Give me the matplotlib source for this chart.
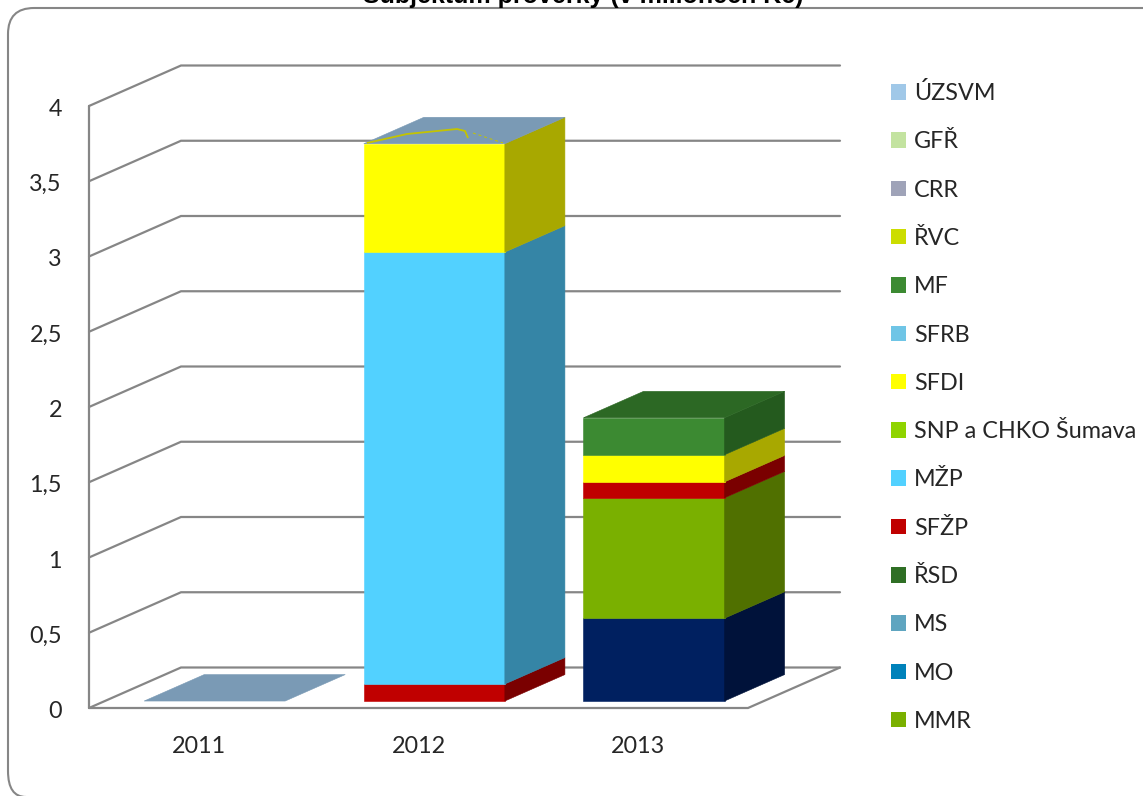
import matplotlib
matplotlib.use("Agg")
import matplotlib.pyplot as plt
from matplotlib.patches import Polygon, Patch, PathPatch
from matplotlib.path import Path
from matplotlib.transforms import Affine2D

W, H = 1148, 796

# ---- data -------------------------------------------------------------
title = "Subjektům prověrky (v milionech Kč)"
years = ["2011", "2012", "2013"]
y_ticks = [0, 0.5, 1, 1.5, 2, 2.5, 3, 3.5, 4]
y_tick_labels = ["0", "0,5", "1", "1,5", "2", "2,5", "3", "3,5", "4"]

# stacked segments, bottom to top; each list = 2011, 2012, 2013
unnamed_series = [0, 0, 0.55]
mmr = [0, 0, 0.80]
sfzp = [0, 0.113, 0.106]
mzp = [0, 2.87, 0]
sfdi = [0, 0.72, 0.18]
mf = [0, 0, 0.246]

stack_values = [unnamed_series, mmr, sfzp, mzp, sfdi, mf]
stack_front = ["#002060", "#7AB000", "#C00000", "#52D1FF", "#FFFF00", "#3C8A32"]
stack_side = ["#00123A", "#507000", "#7A0000", "#3585A6", "#A8A800", "#245A1E"]
top_colors = ["#7A9AB5", "#7A9AB5", "#2C6824"]

legend_names = ["ÚZSVM", "GFŘ", "CRR", "ŘVC", "MF", "SFRB", "SFDI",
                "SNP a CHKO Šumava", "MŽP", "SFŽP", "ŘSD", "MS", "MO", "MMR"]
legend_colors = ["#A0C8E8", "#C3E3A0", "#9FA3B8", "#CCDD00", "#3C8A32", "#6FC5E6",
                 "#FFFF00", "#8FD400", "#52D1FF", "#C00000", "#2F6F25", "#5FA5C0",
                 "#0082BA", "#7AB000"]

# ---- layout -----------------------------------------------------------
GRID = "#868686"
TEXT = "#262626"
FONT = "Lato"
LEFT, RIGHT, BASE, TOP = 89, 748, 708, 106
DEPTH_X, DEPTH_Y = 92, 40.5   # pixels of full depth of the oblique floor
BAR_WIDTH = 0.642
D0, D1 = 0.172, 0.825         # front/back depth of the bars

fig = plt.figure(figsize=(W / 100, H / 100), dpi=100, facecolor="white")
ax = fig.add_axes([LEFT / W, (H - BASE) / H, (RIGHT - LEFT) / W, (BASE - TOP) / H])
ax.set_xlim(0, len(years))
ax.set_ylim(0, 4)
ax.patch.set_visible(False)
for s in ax.spines.values():
    s.set_visible(False)

sx = DEPTH_X / ((RIGHT - LEFT) / len(years))
sy = DEPTH_Y / ((BASE - TOP) / 4)


def pr(x, v, d):
    """Oblique projection of (category x, value v, depth d) to data coordinates."""
    return (x + d * sx, v + d * sy)


ax.set_xticks([i + 0.5 for i in range(len(years))], years)
ax.set_yticks(y_ticks, y_tick_labels)
ax.tick_params(axis="both", length=0, labelsize=16.8, labelcolor=TEXT)
ax.tick_params(axis="y", pad=19.5)
ax.tick_params(axis="x", pad=20)
shift_down = Affine2D().translate(0, -1.5)
for lab in ax.get_xticklabels():
    lab.set_fontfamily(FONT)
for lab in ax.get_yticklabels():
    lab.set_fontfamily(FONT)
    lab.set_transform(lab.get_transform() + shift_down)

# walls and grid
line_kw = dict(color=GRID, lw=1.6, clip_on=False, zorder=1, solid_capstyle="round",
               solid_joinstyle="miter")
for v in y_ticks:
    p0, p1, p2 = pr(0, v, 0), pr(0, v, 1), pr(len(years), v, 1)
    ax.plot([p0[0], p1[0], p2[0]], [p0[1], p1[1], p2[1]], **line_kw)
ax.plot([0, 0], [0, 4], **line_kw)
pa, pb, pc = pr(0, 0, 0), pr(len(years), 0, 0), pr(len(years), 0, 1)
ax.plot([pa[0], pb[0], pc[0]], [pa[1], pb[1], pc[1]], **line_kw)


def poly(points, color, z):
    ax.add_patch(Polygon(points, closed=True, facecolor=color, edgecolor=color,
                         lw=0.4, clip_on=False, zorder=z))


# bars
for i in range(len(years)):
    xl, xr = i + 0.5 - BAR_WIDTH / 2, i + 0.5 + BAR_WIDTH / 2
    bottom = 0
    for values, fc, sc in zip(stack_values, stack_front, stack_side):
        h = values[i]
        if h <= 0:
            continue
        top = bottom + h
        poly([pr(xl, bottom, D0), pr(xr, bottom, D0), pr(xr, top, D0), pr(xl, top, D0)], fc, 3)
        poly([pr(xr, bottom, D0), pr(xr, bottom, D1), pr(xr, top, D1), pr(xr, top, D0)], sc, 3)
        bottom = top
    poly([pr(xl, bottom, D0), pr(xr, bottom, D0), pr(xr, bottom, D1), pr(xl, bottom, D1)],
         top_colors[i], 3)

# pixel-space overlay: chart-area frame and the render artefact on the bar top
px = Affine2D().scale(1, -1).translate(0, H)
R = 26
frame = Path([(1143, 8), (8 + R, 8), (8, 8), (8, 8 + R), (8, 797 - R), (8, 797), (8 + R - 8, 797)],
             [Path.MOVETO, Path.LINETO, Path.CURVE3, Path.CURVE3, Path.LINETO, Path.CURVE3, Path.CURVE3])
fig.add_artist(PathPatch(frame, transform=px, facecolor="none", edgecolor=GRID, lw=1.5))
scribble = Path([(367, 143), (407, 134), (457, 129), (465, 131), (468, 138)])
fig.add_artist(PathPatch(scribble, transform=px, facecolor="none", edgecolor="#C4C400", lw=1.3))
dash = Path([(473, 133), (503, 143)])
fig.add_artist(PathPatch(dash, transform=px, facecolor="none", edgecolor="#C4C400", lw=0.7,
                         linestyle=(0, (3, 3))))

# title (cut by the top of the image, as in the reference)
fig.text(583 / W, 1 - 3 / H, title, ha="center", va="baseline",
         family="Liberation Sans", fontweight="bold", fontsize=18, color="black")

# legend
handles = [Patch(facecolor=c, edgecolor="none") for c in legend_colors]
leg = fig.legend(handles, legend_names, loc="upper left",
                 bbox_to_anchor=(891 / W, 1 - 82 / H), bbox_transform=fig.transFigure,
                 frameon=False, prop={"family": FONT, "size": 16.8},
                 handlelength=0.65, handleheight=0.65, handletextpad=0.34,
                 labelspacing=1.17, borderpad=0, borderaxespad=0, labelcolor=TEXT)

fig.savefig("out.png", dpi=100, facecolor="white")
